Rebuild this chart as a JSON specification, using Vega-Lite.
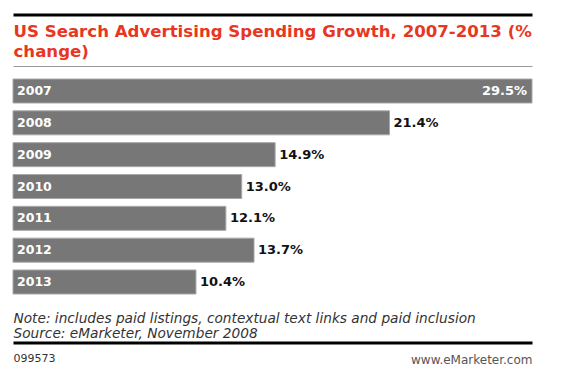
{
  "$schema": "https://vega.github.io/schema/vega-lite/v6.json",
  "width": 519,
  "height": 215,
  "autosize": {"type": "none"},
  "padding": {"left": 13, "top": 79, "right": 53, "bottom": 88},
  "background": "white",
  "config": {
    "view": {"stroke": null},
    "font": "DejaVu Sans",
    "axis": {"labels": false, "ticks": false, "grid": false, "domain": false}
  },
  "data": {
    "values": [
      {"Year": "2007", "Growth": 0.295},
      {"Year": "2008", "Growth": 0.214},
      {"Year": "2009", "Growth": 0.149},
      {"Year": "2010", "Growth": 0.130},
      {"Year": "2011", "Growth": 0.121},
      {"Year": "2012", "Growth": 0.137},
      {"Year": "2013", "Growth": 0.104}
    ]
  },
  "encoding": {
    "y": {"field": "Year", "type": "nominal", "axis": null,
          "scale": {"paddingInner": 0.246, "paddingOuter": 0}}
  },
  "layer": [
    {
      "mark": {"type": "bar", "color": "#777777"},
      "encoding": {
        "x": {"field": "Growth", "type": "quantitative",
              "scale": {"domain": [0, 0.295], "nice": false, "zero": true},
              "axis": {"orient": "top", "offset": 64.5, "domain": true, "domainColor": "#000000", "domainWidth": 3, "title": null}}
      }
    },
    {
      "mark": {"type": "bar", "filled": false, "color": "#a8a8a8", "strokeWidth": 1},
      "encoding": {
        "x": {"field": "Growth", "type": "quantitative",
              "scale": {"domain": [0, 0.295], "nice": false, "zero": true},
              "axis": {"orient": "bottom", "offset": 52, "title": "www.eMarketer.com", "titleAnchor": "end", "titleFontSize": 12, "titleFontWeight": "normal", "titleColor": "#555555", "titlePadding": 8, "titleFont": "DejaVu Sans"}}
      }
    },
    {
      "mark": {"type": "text", "color": "white", "fontWeight": "bold", "fontSize": 12.5, "align": "left", "baseline": "middle", "dx": 4, "font": "DejaVu Sans"},
      "encoding": {
        "x": {"datum": 0, "type": "quantitative",
              "scale": {"domain": [0, 0.295], "nice": false, "zero": true},
              "axis": {"orient": "top", "offset": 13, "domain": true, "domainColor": "#999999", "domainWidth": 1,
                       "title": ["US Search Advertising Spending Growth, 2007-2013 (%", "change)"],
                       "titleAnchor": "start", "titleColor": "#e8371f", "titleFont": "DejaVu Sans", "titleFontWeight": "bold", "titleFontSize": 16.6, "titleLineHeight": 20, "titlePadding": 7}},
        "text": {"field": "Year"}
      }
    },
    {
      "transform": [{"filter": "datum.Year != '2007'"}],
      "mark": {"type": "text", "color": "#111111", "fontWeight": "bold", "fontSize": 13, "align": "left", "baseline": "middle", "dx": 4, "font": "DejaVu Sans"},
      "encoding": {
        "x": {"field": "Growth", "type": "quantitative",
              "scale": {"domain": [0, 0.295], "nice": false, "zero": true},
              "axis": {"orient": "bottom", "offset": 48.5, "domain": true, "domainColor": "#000000", "domainWidth": 3,
                       "title": "099573", "titleAnchor": "start", "titleFontSize": 11, "titleFontWeight": "normal", "titleColor": "#333333", "titlePadding": 10, "titleFont": "DejaVu Sans"}},
        "text": {"field": "Growth", "format": ".1%"}
      }
    },
    {
      "transform": [{"filter": "datum.Year == '2007'"}],
      "mark": {"type": "text", "color": "white", "fontWeight": "bold", "fontSize": 13, "align": "right", "baseline": "middle", "dx": -5, "font": "DejaVu Sans"},
      "encoding": {
        "x": {"field": "Growth", "type": "quantitative",
              "scale": {"domain": [0, 0.295], "nice": false, "zero": true},
              "axis": {"orient": "bottom", "offset": 17,
                       "title": ["Note: includes paid listings, contextual text links and paid inclusion", "Source: eMarketer, November 2008"],
                       "titleAnchor": "start", "titleFontSize": 13.7, "titleFontWeight": "normal", "titleFontStyle": "italic", "titleColor": "#333333", "titleLineHeight": 15.5, "titlePadding": 0, "titleFont": "DejaVu Sans"}},
        "text": {"field": "Growth", "format": ".1%"}
      }
    }
  ],
  "resolve": {"scale": {"x": "independent"}, "axis": {"x": "independent"}}
}
